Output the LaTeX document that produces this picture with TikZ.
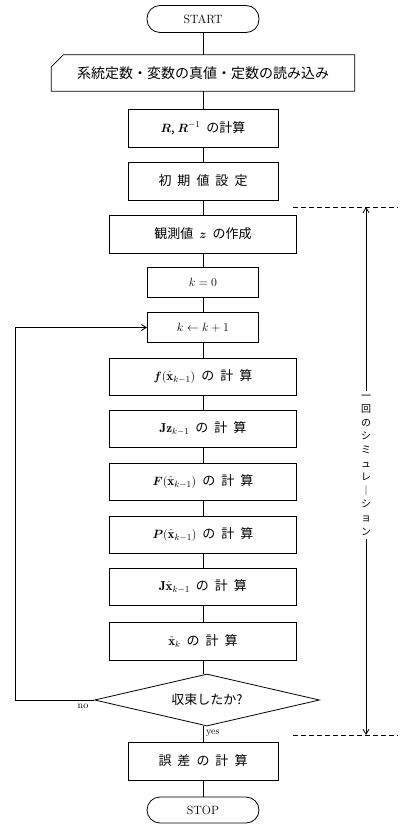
\documentclass[tikz,border=0pt]{standalone}
\usepackage{amsmath,bm}
\usepackage{fontspec}
\newfontfamily\jp{Noto Sans CJK JP}
\usetikzlibrary{shapes.geometric,arrows.meta}
\begin{document}
\begin{tikzpicture}[x=1pt,y=-1pt,
  link/.style={line width=0.8pt},
  box/.style={draw, line width=0.8pt, inner sep=2pt, minimum height=38pt,
    font=\jp\fontsize{13}{15}\selectfont},
  narrowbox/.style={box, minimum width=150pt},
  widebox/.style={box, minimum width=187pt},
  kbox/.style={box, minimum width=111pt, minimum height=30pt},
  term/.style={draw, line width=0.8pt, rounded corners=13pt, minimum width=112pt,
    minimum height=27pt, font=\fontsize{12}{14}\selectfont},
  lbl/.style={font=\fontsize{10}{12}\selectfont, inner sep=1pt},
  sidearrow/.style={line width=0.8pt, -{Straight Barb[length=5pt,width=6pt]}},
  dashline/.style={line width=0.7pt, dash pattern=on 5pt off 3pt}
]
\useasboundingbox (0,0) rectangle (401,824);

\newcommand{\xh}{\hat{\mathbf{x}}}
\newcommand{\gp}{\hspace{6pt}}

\node[term] (start) at (203,19) {START};
\node[minimum width=303pt, minimum height=36pt, inner sep=0pt,
  font=\jp\fontsize{14}{16}\selectfont] (card) at (203,73)
  {系統定数・変数の真値・定数の読み込み};
\draw[link] ([xshift=12pt]card.north west) -- (card.north east) -- (card.south east)
  -- (card.south west) -- ([yshift=-12pt]card.north west) -- cycle;
\node[narrowbox] (rr) at (203,128) {$\bm{R}$, $\bm{R}^{-1}$\gp の計算};
\node[narrowbox] (init) at (203,181) {初\gp 期\gp 値\gp 設\gp 定};
\node[widebox] (obs) at (203,234) {観測値\gp $\bm{z}$\gp の作成};
\node[kbox] (kzero) at (203,282) {$k=0$};
\node[kbox] (kinc) at (203,327.5) {$k\leftarrow k+1$};
\node[widebox, minimum height=37pt] (fc) at (203,376.5) {$\bm{f}(\xh_{k-1})$\gp の\gp 計\gp 算};
\node[widebox, minimum height=37pt] (jz) at (203,428.5) {$\mathbf{J}\mathbf{z}_{k-1}$\gp の\gp 計\gp 算};
\node[widebox, minimum height=37pt] (ff) at (203,481.5) {$\bm{F}(\xh_{k-1})$\gp の\gp 計\gp 算};
\node[widebox, minimum height=37pt] (pp) at (203,534.5) {$\bm{P}(\xh_{k-1})$\gp の\gp 計\gp 算};
\node[widebox, minimum height=37pt] (jx) at (203,586.5) {$\mathbf{J}\xh_{k-1}$\gp の\gp 計\gp 算};
\node[widebox] (xk) at (203,641) {$\xh_{k}$\gp の\gp 計\gp 算};
\node[draw, line width=0.8pt, diamond, aspect=4.3, minimum width=225pt, minimum height=52pt,
  inner sep=0pt, font=\jp\fontsize{13}{15}\selectfont] (conv) at (207,700) {収束したか?};
\node[narrowbox] (err) at (203,761) {誤\gp 差\gp の\gp 計\gp 算};
\node[term, minimum height=26pt] (stop) at (203,810) {STOP};

\draw[link] (start) -- (card.north);
\draw[link] (card.south) -- (rr);
\draw[link] (rr) -- (init);
\draw[link] (init) -- (obs);
\draw[link] (obs) -- (kzero);
\draw[link] (kzero) -- (kinc);
\draw[link] (kinc) -- (fc);
\draw[link] (fc) -- (jz);
\draw[link] (jz) -- (ff);
\draw[link] (ff) -- (pp);
\draw[link] (pp) -- (jx);
\draw[link] (jx) -- (xk);
\draw[link] (xk) -- (xk |- conv.north);
\draw[link] (xk |- conv.south) -- (err);
\draw[link] (err) -- (stop);

\coordinate (lx) at (15,0);
\draw[link, -{Straight Barb[length=5pt,width=6pt]}] (conv.west) -- (conv.west -| lx) |- (kinc.west);
\node[lbl, anchor=north] (no) at (83,703) {no};
\node[lbl, anchor=west] (yes) at (205,733) {yes};

\coordinate (tdl) at (293,207);
\coordinate (tdr) at (398,207);
\coordinate (bdl) at (293,735);
\coordinate (bdr) at (398,735);
\draw[dashline] (tdl) -- (tdr);
\draw[dashline] (bdl) -- (bdr);
\node[font=\jp\fontsize{10}{13.6}\selectfont, align=center, inner sep=4pt] (sim) at (366,465)
  {一\\回\\の\\シ\\ミ\\ュ\\レ\\｜\\シ\\ョ\\ン};
\draw[sidearrow] (sim.north) -- (sim.north |- tdl);
\draw[sidearrow] (sim.south) -- (sim.south |- bdl);
\end{tikzpicture}
\end{document}
